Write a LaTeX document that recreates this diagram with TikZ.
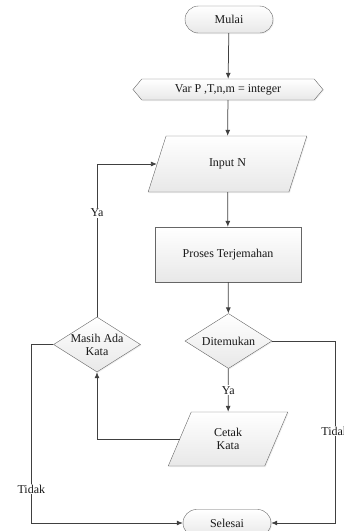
\documentclass[tikz,border=0pt]{standalone}
\usepackage{fontspec}
\setmainfont{Liberation Serif}
\usetikzlibrary{shapes.geometric,shapes.misc,shapes.symbols,arrows.meta,shadows}

\tikzset{
  box/.style={draw=gray!80!black, top color=white, bottom color=gray!18,
    drop shadow={opacity=0.12, shadow xshift=1pt, shadow yshift=-1pt},
    text=black!90, font=\fontsize{12}{13}\selectfont, align=center},
  terminal/.style={box, rounded rectangle, minimum width=88pt, minimum height=27pt, inner sep=0pt},
  prep/.style={box, signal, signal to=west and east, signal pointer angle=100,
    minimum width=190pt, minimum height=21pt, inner sep=1pt},
  io/.style={box, trapezium, trapezium stretches=true, minimum height=#1, inner sep=0pt},
  process/.style={box, rectangle, minimum width=146pt, minimum height=55pt},
  decision/.style={box, diamond, minimum width=87pt, minimum height=55pt, aspect=1.58, inner sep=-4pt},
  arr/.style={draw=black!75, line width=0.75pt, -{Latex[length=6pt,width=5pt]}},
  lbl/.style={fill=white, inner sep=1pt, text=black!90, font=\fontsize{12}{13}\selectfont}
}

\begin{document}
\begin{tikzpicture}[x=1pt,y=-1pt]
    \useasboundingbox (0,0) rectangle (344,531);
    \clip (0,0) rectangle (344,531);

    % nodes
    \node[terminal] (mulai) at (229,19.5) {Mulai};
    \node[prep] (var) at (228,89.5) {Var P ,T,n,m = integer};
    \node[io=56pt, trapezium left angle=62.6, trapezium right angle=117.4,
      minimum width=159pt] (input) at (227.5,164) {Input N};
    \node[process] (proses) at (228,254.5) {Proses Terjemahan};
    \node[decision] (temu) at (228.5,341) {Ditemukan};
    \node[io=54pt, trapezium left angle=67.8, trapezium right angle=112.2,
      minimum width=120pt] (cetak) at (228,439) {Cetak\\Kata};
    \node[decision] (masih) at (97,344.5) {Masih Ada\\Kata};
    \node[terminal] (selesai) at (227,523) {Selesai};

    % connectors
    \draw[arr] (mulai) -- (var);
    \draw[arr] (var) -- (input);
    \draw[arr] (input) -- (proses);
    \draw[arr] (proses) -- (temu);
    \draw[arr] (temu) -- node[lbl] {Ya} (cetak);
    \draw[arr] (cetak.west) -| (masih.south);
    \draw[arr] (masih.north) |- node[lbl, pos=0.34] {Ya} (input.west);
    \draw[arr] (masih.west) -- ++(-22,0) |- node[lbl, pos=0.405] {Tidak} (selesai.west);
    \draw[arr] (temu.east) -- ++(63,0) |- node[lbl, pos=0.247] {Tidak} (selesai.east);
\end{tikzpicture}
\end{document}
